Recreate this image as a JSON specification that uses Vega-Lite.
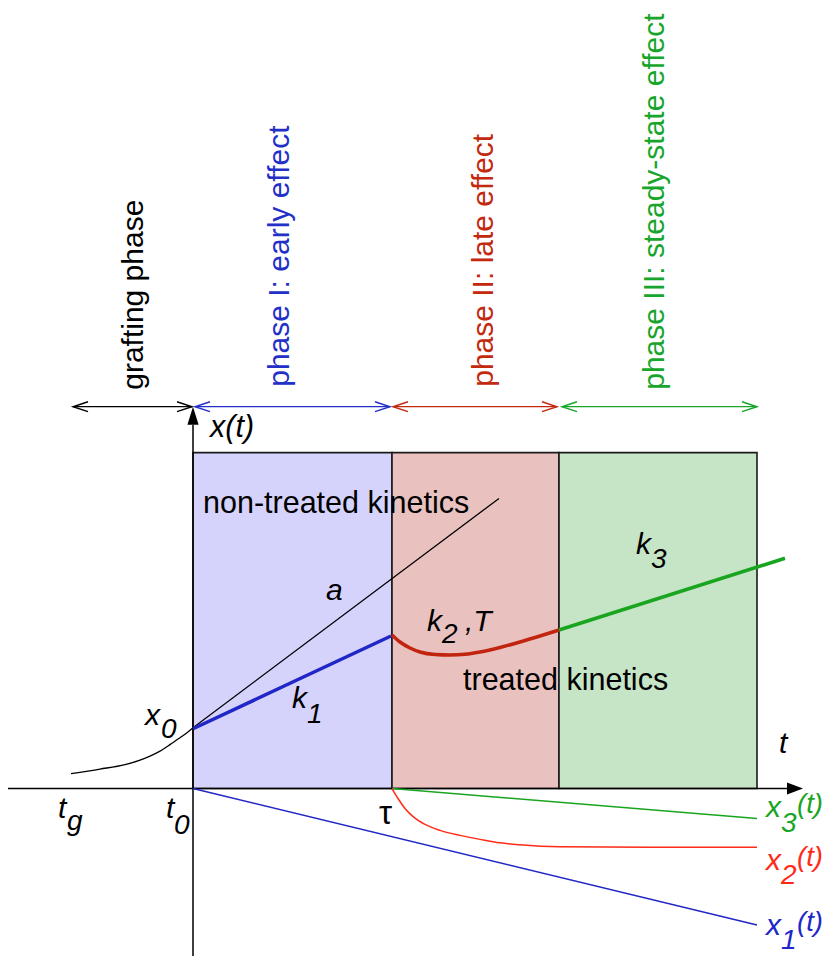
{
  "$schema": "https://vega.github.io/schema/vega-lite/v6.json",
  "width": 832,
  "height": 959,
  "padding": 0,
  "autosize": {"type": "fit", "contains": "padding"},
  "background": "white",
  "config": {"view": {"stroke": null}, "axis": {"disable": true}},
  "datasets": {
    "rects": [
      {"x1": 193, "x2": 392, "y1": 454, "y2": 791, "f": "#d5d3fb"},
      {"x1": 392, "x2": 559, "y1": 454, "y2": 791, "f": "#e9c2c0"},
      {"x1": 559, "x2": 757, "y1": 454, "y2": 791, "f": "#c6e4c6"}
    ],
    "lines": [
      {"id": "axH", "x": 8, "y": 791, "c": "#000000", "w": 1.5},
      {"id": "axH", "x": 788, "y": 791, "c": "#000000", "w": 1.5},
      {"id": "axV", "x": 193, "y": 959, "c": "#000000", "w": 1.5},
      {"id": "axV", "x": 193, "y": 426, "c": "#000000", "w": 1.5},
      {"id": "arG", "x": 73, "y": 408, "c": "#000000", "w": 1.3},
      {"id": "arG", "x": 192, "y": 408, "c": "#000000", "w": 1.3},
      {"id": "ar1", "x": 195, "y": 408, "c": "#2330c8", "w": 1.3},
      {"id": "ar1", "x": 390, "y": 408, "c": "#2330c8", "w": 1.3},
      {"id": "ar2", "x": 393, "y": 408, "c": "#c3290f", "w": 1.3},
      {"id": "ar2", "x": 557, "y": 408, "c": "#c3290f", "w": 1.3},
      {"id": "ar3", "x": 562, "y": 408, "c": "#17a52b", "w": 1.3},
      {"id": "ar3", "x": 757, "y": 408, "c": "#17a52b", "w": 1.3},
      {"id": "nt", "x": 193, "y": 730, "c": "#000000", "w": 1.3},
      {"id": "nt", "x": 499, "y": 500, "c": "#000000", "w": 1.3},
      {"id": "k1", "x": 193, "y": 731, "c": "#2126c6", "w": 3.5},
      {"id": "k1", "x": 391, "y": 638, "c": "#2126c6", "w": 3.5},
      {"id": "k3", "x": 559, "y": 632, "c": "#19a51f", "w": 3.5},
      {"id": "k3", "x": 785, "y": 560, "c": "#19a51f", "w": 3.5},
      {"id": "x1", "x": 193, "y": 791, "c": "#2126c6", "w": 1.5},
      {"id": "x1", "x": 757, "y": 928, "c": "#2126c6", "w": 1.5},
      {"id": "x3", "x": 392, "y": 791, "c": "#19a51f", "w": 1.5},
      {"id": "x3", "x": 757, "y": 821, "c": "#19a51f", "w": 1.5}
    ],
    "curves": [
      {"id": "gr", "x": 71, "y": 776, "c": "#000000", "w": 1.3},
      {"id": "gr", "x": 100, "y": 771.5, "c": "#000000", "w": 1.3},
      {"id": "gr", "x": 125, "y": 767, "c": "#000000", "w": 1.3},
      {"id": "gr", "x": 140, "y": 762.5, "c": "#000000", "w": 1.3},
      {"id": "gr", "x": 150, "y": 758.5, "c": "#000000", "w": 1.3},
      {"id": "gr", "x": 160, "y": 753.5, "c": "#000000", "w": 1.3},
      {"id": "gr", "x": 170, "y": 747, "c": "#000000", "w": 1.3},
      {"id": "gr", "x": 180, "y": 740, "c": "#000000", "w": 1.3},
      {"id": "gr", "x": 187, "y": 735, "c": "#000000", "w": 1.3},
      {"id": "gr", "x": 193, "y": 730, "c": "#000000", "w": 1.3},
      {"id": "k2", "x": 392, "y": 637, "c": "#c2250f", "w": 3.5},
      {"id": "k2", "x": 400, "y": 644, "c": "#c2250f", "w": 3.5},
      {"id": "k2", "x": 410, "y": 650, "c": "#c2250f", "w": 3.5},
      {"id": "k2", "x": 420, "y": 654, "c": "#c2250f", "w": 3.5},
      {"id": "k2", "x": 435, "y": 656.5, "c": "#c2250f", "w": 3.5},
      {"id": "k2", "x": 450, "y": 657, "c": "#c2250f", "w": 3.5},
      {"id": "k2", "x": 465, "y": 656.3, "c": "#c2250f", "w": 3.5},
      {"id": "k2", "x": 480, "y": 654, "c": "#c2250f", "w": 3.5},
      {"id": "k2", "x": 500, "y": 649.5, "c": "#c2250f", "w": 3.5},
      {"id": "k2", "x": 520, "y": 644, "c": "#c2250f", "w": 3.5},
      {"id": "k2", "x": 540, "y": 638, "c": "#c2250f", "w": 3.5},
      {"id": "k2", "x": 559, "y": 632, "c": "#c2250f", "w": 3.5},
      {"id": "x2", "x": 392, "y": 791, "c": "#ff2a18", "w": 1.5},
      {"id": "x2", "x": 398, "y": 801, "c": "#ff2a18", "w": 1.5},
      {"id": "x2", "x": 405, "y": 811, "c": "#ff2a18", "w": 1.5},
      {"id": "x2", "x": 414, "y": 820, "c": "#ff2a18", "w": 1.5},
      {"id": "x2", "x": 425, "y": 827, "c": "#ff2a18", "w": 1.5},
      {"id": "x2", "x": 440, "y": 833, "c": "#ff2a18", "w": 1.5},
      {"id": "x2", "x": 460, "y": 838, "c": "#ff2a18", "w": 1.5},
      {"id": "x2", "x": 480, "y": 842, "c": "#ff2a18", "w": 1.5},
      {"id": "x2", "x": 500, "y": 845.5, "c": "#ff2a18", "w": 1.5},
      {"id": "x2", "x": 520, "y": 847.5, "c": "#ff2a18", "w": 1.5},
      {"id": "x2", "x": 560, "y": 849.5, "c": "#ff2a18", "w": 1.5},
      {"id": "x2", "x": 650, "y": 850, "c": "#ff2a18", "w": 1.5},
      {"id": "x2", "x": 757, "y": 850, "c": "#ff2a18", "w": 1.5}
    ],
    "openHeads": [
      {"x": 73, "y": 408, "sh": "M1,-0.33L0,0L1,0.33", "c": "#000000"},
      {"x": 192, "y": 408, "sh": "M-1,-0.33L0,0L-1,0.33", "c": "#000000"},
      {"x": 195, "y": 408, "sh": "M1,-0.33L0,0L1,0.33", "c": "#2330c8"},
      {"x": 390, "y": 408, "sh": "M-1,-0.33L0,0L-1,0.33", "c": "#2330c8"},
      {"x": 393, "y": 408, "sh": "M1,-0.33L0,0L1,0.33", "c": "#c3290f"},
      {"x": 557, "y": 408, "sh": "M-1,-0.33L0,0L-1,0.33", "c": "#c3290f"},
      {"x": 562, "y": 408, "sh": "M1,-0.33L0,0L1,0.33", "c": "#17a52b"},
      {"x": 757, "y": 408, "sh": "M-1,-0.33L0,0L-1,0.33", "c": "#17a52b"}
    ],
    "filledHeads": [
      {"x": 193, "y": 426, "sh": "M0,-1L0.31,0L-0.31,0Z", "s": 1296},
      {"x": 787, "y": 791, "sh": "M1,0L0,-0.375L0,0.375Z", "s": 1024}
    ],
    "vtext": [
      {"t": "grafting phase", "x": 143, "y": 391, "c": "#000000"},
      {"t": "phase I: early effect", "x": 289, "y": 388, "c": "#2330c8"},
      {"t": "phase II: late effect", "x": 493, "y": 388, "c": "#c3290f"},
      {"t": "phase III: steady-state effect", "x": 664, "y": 391, "c": "#17a52b"}
    ],
    "ntext": [
      {"t": "non-treated kinetics", "x": 203, "y": 515, "c": "#000000", "s": 30.5},
      {"t": "treated kinetics", "x": 463, "y": 692, "c": "#000000", "s": 30.5},
      {"t": "τ", "x": 379, "y": 827, "c": "#000000", "s": 33}
    ],
    "itext": [
      {"t": "x(t)", "x": 210, "y": 438, "c": "#000000", "s": 30.5},
      {"t": "a", "x": 326, "y": 602, "c": "#000000", "s": 30},
      {"t": "x", "x": 145, "y": 727, "c": "#000000", "s": 30},
      {"t": "0", "x": 161, "y": 740, "c": "#000000", "s": 28},
      {"t": "k", "x": 292, "y": 710, "c": "#000000", "s": 30},
      {"t": "1", "x": 307, "y": 725, "c": "#000000", "s": 28},
      {"t": "k", "x": 427, "y": 633, "c": "#000000", "s": 30},
      {"t": "2", "x": 442, "y": 645, "c": "#000000", "s": 28},
      {"t": ",T", "x": 465, "y": 633, "c": "#000000", "s": 30},
      {"t": "k", "x": 636, "y": 556, "c": "#000000", "s": 30},
      {"t": "3", "x": 651, "y": 570, "c": "#000000", "s": 28},
      {"t": "t", "x": 779, "y": 755, "c": "#000000", "s": 30},
      {"t": "t", "x": 58, "y": 821, "c": "#000000", "s": 30},
      {"t": "g", "x": 67, "y": 833, "c": "#000000", "s": 28},
      {"t": "t", "x": 166, "y": 821, "c": "#000000", "s": 30},
      {"t": "0", "x": 174, "y": 837, "c": "#000000", "s": 28},
      {"t": "x", "x": 766, "y": 820, "c": "#19a51f", "s": 30},
      {"t": "3", "x": 781, "y": 835, "c": "#19a51f", "s": 28},
      {"t": "(t)", "x": 797, "y": 816, "c": "#19a51f", "s": 27.5},
      {"t": "x", "x": 766, "y": 873, "c": "#ff2a18", "s": 30},
      {"t": "2", "x": 781, "y": 887, "c": "#ff2a18", "s": 28},
      {"t": "(t)", "x": 797, "y": 869, "c": "#ff2a18", "s": 27.5},
      {"t": "x", "x": 766, "y": 938, "c": "#2126c6", "s": 30},
      {"t": "1", "x": 781, "y": 952, "c": "#2126c6", "s": 28},
      {"t": "(t)", "x": 797, "y": 934, "c": "#2126c6", "s": 27.5}
    ]
  },
  "resolve": {"scale": {"x": "shared", "y": "shared"}},
  "layer": [
    {
      "data": {"name": "rects"},
      "mark": {"type": "rect", "stroke": "#1a1a1a", "strokeWidth": 1.6},
      "encoding": {
        "x": {"field": "x1", "type": "quantitative", "scale": {"domain": [0, 832], "nice": false, "zero": false}, "axis": null},
        "x2": {"field": "x2"},
        "y": {"field": "y1", "type": "quantitative", "scale": {"domain": [0, 959], "nice": false, "zero": false, "reverse": true}, "axis": null},
        "y2": {"field": "y2"},
        "fill": {"field": "f", "type": "nominal", "scale": null}
      }
    },
    {
      "data": {"name": "lines"},
      "mark": {"type": "line", "interpolate": "linear"},
      "encoding": {
        "x": {"field": "x", "type": "quantitative"},
        "y": {"field": "y", "type": "quantitative"},
        "detail": {"field": "id", "type": "nominal"},
        "color": {"field": "c", "type": "nominal", "scale": null},
        "strokeWidth": {"field": "w", "type": "quantitative", "scale": null}
      }
    },
    {
      "data": {"name": "curves"},
      "mark": {"type": "line", "interpolate": "monotone"},
      "encoding": {
        "x": {"field": "x", "type": "quantitative"},
        "y": {"field": "y", "type": "quantitative"},
        "detail": {"field": "id", "type": "nominal"},
        "color": {"field": "c", "type": "nominal", "scale": null},
        "strokeWidth": {"field": "w", "type": "quantitative", "scale": null}
      }
    },
    {
      "data": {"name": "openHeads"},
      "mark": {"type": "point", "filled": false, "strokeWidth": 1.4, "size": 900, "opacity": 1},
      "encoding": {
        "x": {"field": "x", "type": "quantitative"},
        "y": {"field": "y", "type": "quantitative"},
        "shape": {"field": "sh", "type": "nominal", "scale": null},
        "color": {"field": "c", "type": "nominal", "scale": null}
      }
    },
    {
      "data": {"name": "filledHeads"},
      "mark": {"type": "point", "filled": true, "color": "#000000", "opacity": 1},
      "encoding": {
        "x": {"field": "x", "type": "quantitative"},
        "y": {"field": "y", "type": "quantitative"},
        "shape": {"field": "sh", "type": "nominal", "scale": null},
        "size": {"field": "s", "type": "quantitative", "scale": null}
      }
    },
    {
      "data": {"name": "vtext"},
      "mark": {"type": "text", "angle": 270, "align": "left", "baseline": "alphabetic", "font": "Liberation Sans", "fontSize": 30},
      "encoding": {
        "x": {"field": "x", "type": "quantitative"},
        "y": {"field": "y", "type": "quantitative"},
        "text": {"field": "t"},
        "color": {"field": "c", "type": "nominal", "scale": null}
      }
    },
    {
      "data": {"name": "ntext"},
      "mark": {"type": "text", "align": "left", "baseline": "alphabetic", "font": "Liberation Sans"},
      "encoding": {
        "x": {"field": "x", "type": "quantitative"},
        "y": {"field": "y", "type": "quantitative"},
        "text": {"field": "t"},
        "color": {"field": "c", "type": "nominal", "scale": null},
        "size": {"field": "s", "type": "quantitative", "scale": null}
      }
    },
    {
      "data": {"name": "itext"},
      "mark": {"type": "text", "align": "left", "baseline": "alphabetic", "font": "Liberation Sans", "fontStyle": "italic"},
      "encoding": {
        "x": {"field": "x", "type": "quantitative"},
        "y": {"field": "y", "type": "quantitative"},
        "text": {"field": "t"},
        "color": {"field": "c", "type": "nominal", "scale": null},
        "size": {"field": "s", "type": "quantitative", "scale": null}
      }
    }
  ]
}
